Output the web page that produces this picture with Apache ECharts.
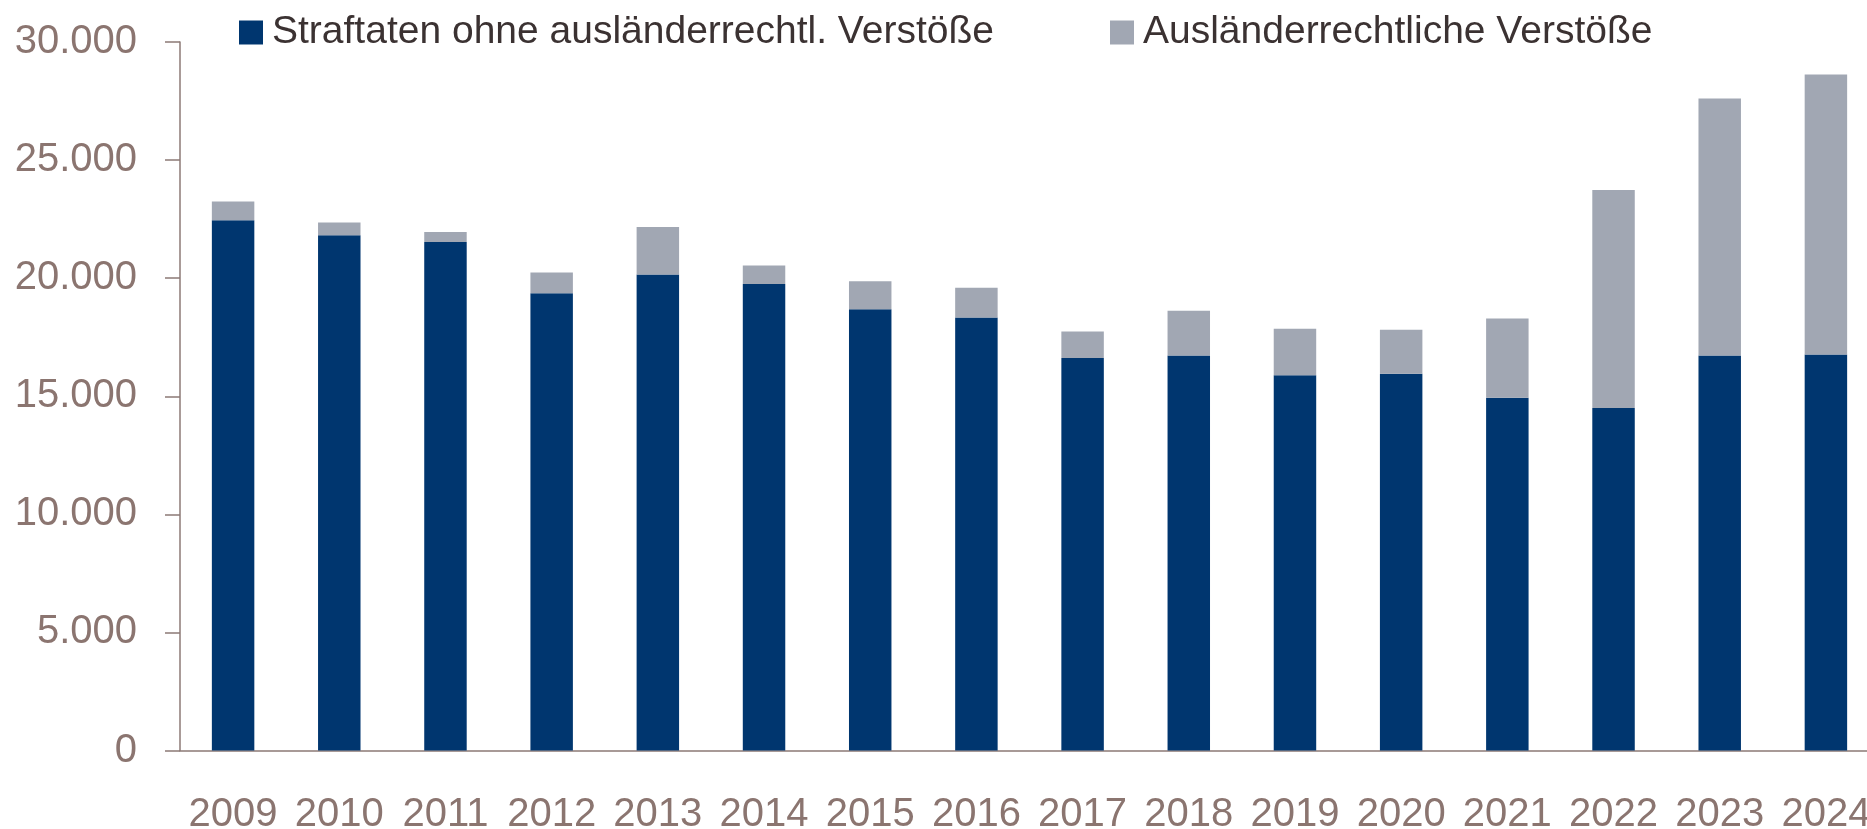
<!DOCTYPE html>
<html>
<head>
<meta charset="utf-8">
<title>Straftaten</title>
<script src="https://cdn.jsdelivr.net/npm/echarts@6/dist/echarts.min.js"></script>
<style>
  html, body { margin: 0; padding: 0; background: #fff; }
  #chart { width: 1867px; height: 829px; }
</style>
</head>
<body>
<div id="chart"></div>
<script>
// Jahre
var years = ['2009', '2010', '2011', '2012', '2013', '2014', '2015', '2016',
  '2017', '2018', '2019', '2020', '2021', '2022', '2023', '2024'];

// Straftaten ohne ausländerrechtliche Verstöße
var ohneAuslRecht = [22450, 21820, 21530, 19360, 20150, 19750, 18680, 18330,
  16620, 16730, 15890, 15950, 14940, 14500, 16730, 16770];

// ausländerrechtliche Verstöße (oben gestapelt)
var auslRecht = [800, 540, 430, 880, 2020, 790, 1190, 1260,
  1120, 1890, 1970, 1870, 3350, 9230, 10880, 11850];

// y-Achse
var yMin = 0;
var yMax = 30000;
var yStep = 5000;

var nameOhne = 'Straftaten ohne ausländerrechtl. Verstöße';
var nameAusl = 'Ausländerrechtliche Verstöße';

var fontName = "'Liberation Sans', Arial, sans-serif";
var axisColor = '#8c7a76';
var labelColor = '#8b7570';

var chart = echarts.init(document.getElementById('chart'));

// gemeinsame Legenden-Einstellungen
var legendBase = {
  top: 8,
  icon: 'rect',
  itemWidth: 24,
  itemHeight: 24,
  itemGap: 0,
  textStyle: {
    fontFamily: fontName,
    fontSize: 39,
    color: '#3b3232',
    padding: [0, 0, 0, 4]
  }
};

var option = {
  animation: false,
  textStyle: { fontFamily: fontName },
  legend: [
    Object.assign({}, legendBase, { left: 234, data: [nameOhne] }),
    Object.assign({}, legendBase, { left: 1105, data: [nameAusl] })
  ],
  grid: {
    left: 180,
    right: -12,
    top: 42,
    bottom: 78.5,
    outerBoundsMode: 'none' // Beschriftung darf über den Rand hinaus (2024)
  },
  xAxis: [{
    type: 'category',
    data: years,
    axisLine: { lineStyle: { color: axisColor, width: 1.5 } },
    axisTick: { length: 14, lineStyle: { color: axisColor, width: 1.2 } },
    axisLabel: {
      interval: 0,
      margin: 44,
      fontSize: 40,
      color: labelColor,
      fontFamily: fontName
    }
  }, {
    // zweite Achse nur für die Ticks nach innen
    type: 'category',
    data: years,
    position: 'bottom',
    axisLine: { show: false },
    axisTick: { inside: true, length: 14, lineStyle: { color: axisColor, width: 1.2 } },
    axisLabel: { show: false }
  }],
  yAxis: {
    type: 'value',
    min: yMin,
    max: yMax,
    interval: yStep,
    axisLine: { show: true, lineStyle: { color: axisColor, width: 1.5 } },
    axisTick: { show: true, length: 15, lineStyle: { color: axisColor, width: 1.5 } },
    splitLine: { show: false },
    axisLabel: {
      margin: 43,
      fontSize: 40,
      color: labelColor,
      fontFamily: fontName,
      padding: [0, 0, 8, 0],
      formatter: function (v) {
        return v.toLocaleString('de-DE');
      }
    }
  },
  series: [{
    name: nameOhne,
    type: 'bar',
    stack: 'gesamt',
    barWidth: '40%',
    data: ohneAuslRecht,
    itemStyle: { color: '#00366f' }
  }, {
    name: nameAusl,
    type: 'bar',
    stack: 'gesamt',
    barWidth: '40%',
    data: auslRecht,
    itemStyle: { color: '#a1a7b3' }
  }]
};

chart.setOption(option);
</script>
</body>
</html>
